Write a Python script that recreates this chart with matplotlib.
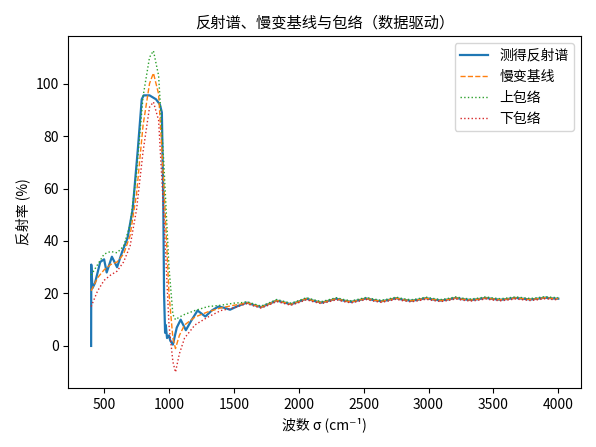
import matplotlib
matplotlib.use("Agg")
import matplotlib.pyplot as plt

plt.rcParams['font.family'] = ['Noto Sans CJK SC', 'DejaVu Sans']
plt.rcParams['axes.unicode_minus'] = False

# measured spectrum
meas_x = [400, 401, 410, 430, 470, 500, 520, 560, 600, 640, 680, 720, 760, 790, 805, 850, 900, 930, 945, 955,
          962, 970, 975, 985, 1000, 1010, 1030, 1060, 1090, 1130, 1170, 1220, 1280, 1330, 1380, 1430, 1470, 1530,
          1600, 1655, 1710, 1770, 1830, 1885, 1940, 2000, 2060, 2115, 2175, 2230, 2290, 2345, 2405, 2460,
          2520, 2575, 2635, 2690, 2750, 2805, 2865, 2920, 2980, 3035, 3095, 3150, 3210, 3265, 3325, 3380,
          3440, 3495, 3555, 3610, 3670, 3725, 3785, 3840, 3900, 3955, 4000]
meas_y = [0, 31, 22, 24, 32, 33, 28, 34, 30, 36, 41, 52, 75, 94, 95.5, 95.5, 94, 92, 89, 60,
          20, 5, 8, 3, 4, 2, 0.5, 7, 10, 6, 9.5, 13.5, 11.2, 13.5, 15, 14.5, 13.8, 15.2,
          16.5, 15.6, 14.8, 16.0, 17.3, 16.6, 15.9, 16.9, 18.0, 17.2, 16.5, 17.2, 18.0, 17.3, 16.8, 17.4,
          18.1, 17.5, 17.0, 17.5, 18.2, 17.6, 17.2, 17.6, 18.2, 17.7, 17.3, 17.7, 18.3, 17.8, 17.5, 17.8,
          18.3, 17.9, 17.6, 17.9, 18.3, 18.0, 17.7, 18.0, 18.4, 18.1, 18.0]

# slowly varying baseline and envelopes (low-wavenumber part)
base_x = [400, 450, 500, 550, 600, 650, 700, 750, 800, 850, 880, 920, 960, 1000, 1030, 1050, 1080, 1120,
          1200, 1300, 1400, 1500, 1560]
base_y = [21, 26, 29, 31, 32, 35, 42, 58, 84, 100, 104, 96, 62, 20, 3, -1, 4, 8, 11, 13, 14.5, 15.5, 16.0]
up_y = [27, 31, 35, 36, 35.5, 38, 46, 66, 95, 110, 112.5, 103, 70, 30, 12, 10, 11, 12, 13.5, 15, 15.5, 16.3, 16.5]
low_y = [15, 21, 25, 27, 28.5, 32, 38, 52, 74, 91, 93, 86, 50, 8, -6, -10, -3, 3, 8, 11, 13.5, 14.5, 15.5]

tail_start = 38  # index in measured where tail (>=1600) begins
tx = meas_x[tail_start:]
ty = meas_y[tail_start:]

fig, ax = plt.subplots(figsize=(5.96, 4.47), dpi=100)
ax.plot(meas_x, meas_y, color='#1f77b4', lw=1.6, label='测得反射谱')
ax.plot(base_x + tx, base_y + ty, color='#ff7f0e', lw=1, ls='--', label='慢变基线')
ax.plot(base_x + tx, up_y + [v + 0.4 for v in ty], color='#2ca02c', lw=1, ls=':', label='上包络')
ax.plot(base_x + tx, low_y + [v - 0.4 for v in ty], color='#d62728', lw=1, ls=':', label='下包络')

ax.set_xlim(225, 4175)
ax.set_ylim(-16, 118)
ax.set_title('反射谱、慢变基线与包络（数据驱动）', fontsize=11)
ax.set_xlabel('波数 σ (cm⁻¹)')
ax.set_ylabel('反射率 (%)')
ax.legend(loc='upper right')
fig.tight_layout()
fig.savefig('out.png', dpi=100)
